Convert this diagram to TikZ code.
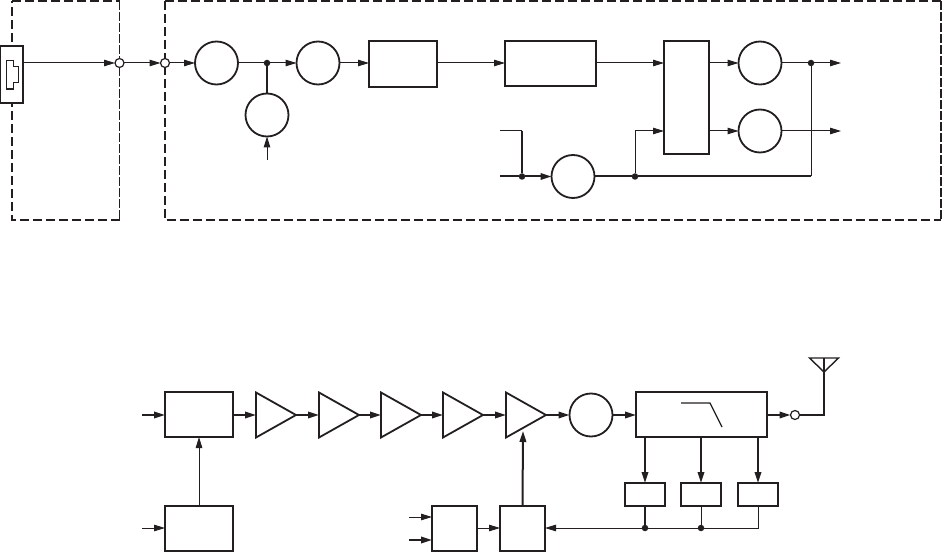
\documentclass[tikz,border=0pt]{standalone}
\usetikzlibrary{arrows.meta,shapes.geometric,calc}
\definecolor{ink}{HTML}{231F20}
\tikzset{
  thinl/.style={line width=1pt},
  thickl/.style={line width=2pt},
  arr/.style={-{Triangle[length=11pt,width=6.5pt,color=ink]}},
  rbox/.style 2 args={draw=ink,line width=2pt,rectangle,inner sep=0,outer sep=0,fill=white,minimum width=#1,minimum height=#2},
  circ/.style={draw=ink,line width=1.8pt,circle,inner sep=0,outer sep=0,minimum size=43pt,fill=white},
  port/.style={draw=ink,line width=1.2pt,circle,inner sep=0,outer sep=0,minimum size=9pt,fill=white},
  jdot/.style={fill=ink,draw=none,circle,inner sep=0,outer sep=0,minimum size=6.5pt},
  amp/.style={draw=ink,line width=1.8pt,isosceles triangle,isosceles triangle stretches,inner sep=0,outer sep=0,minimum width=45pt,minimum height=40pt,anchor=lower side,fill=white},
  dashthick/.style={line width=2pt,dash pattern=on 9pt off 4pt},
  dashthin/.style={line width=1pt,dash pattern=on 9pt off 2pt},
}
\begin{document}
\begin{tikzpicture}[x=1pt,y=-1pt,color=ink]
\useasboundingbox (0,0) rectangle (942,553);
% dashed frames
\draw[dashthick] (119.5,220.5) -- (12,220.5) -- (12,1);
\draw[dashthick] (12,1) -- (119.5,1);
\draw[dashthin] (119.5,1) -- (119.5,220.5);
\draw[dashthick] (165,1) -- (941,1);
\draw[dashthick] (165,1) -- (165,220.5) -- (941,220.5);
\draw[dashthin,line width=1.4pt] (941,1) -- (941,220.5);
% upper row nodes
\node[rbox={23pt}{57pt},line width=1.2pt] (conn) at (11.5,74.5) {};
\draw[line width=1.2pt] (6.3,60.3) -- (13.3,60.3) -- (13.3,66.7) -- (18.7,66.7) -- (18.7,82.7) -- (13.3,82.7) -- (13.3,89) -- (6.3,89) -- cycle;
\node[port] (p1) at (119.5,63) {};
\node[port] (p2) at (165,63) {};
\node[circ] (c1) at (216.5,63) {};
\node[circ] (c2) at (267,115) {};
\node[circ] (c3) at (318,63) {};
\node[rbox={68pt}{46pt}] (b1) at (403,64) {};
\node[rbox={91pt}{45pt}] (b2) at (550.5,63.5) {};
\node[rbox={45pt}{113pt}] (tall) at (686.5,97.5) {};
\node[circ] (c4) at (760,63) {};
\node[circ] (c5) at (760,131) {};
\node[circ] (c6) at (573,176.5) {};
\node[jdot] (d1) at (267,63) {};
\node[jdot] (d2) at (522,176.5) {};
\node[jdot] (d3) at (635,176.5) {};
\node[jdot] (d4) at (811,63) {};
\coordinate (in1) at (500,131);
\coordinate (in2) at (500,176.5);
\coordinate (up) at (267,160);
\coordinate (o1) at (841,63);
\coordinate (o2) at (841,131);
% upper connectors
\draw[thinl,arr] (conn.east |- p1) -- (p1);
\draw[thinl,arr] (p1) -- (p2);
\draw[thinl,arr] (p2) -- (c1);
\draw[thinl] (c1) -- (d1);
\draw[thinl,arr] (d1) -- (c3);
\draw[thickl] (d1) -- (c2);
\draw[thinl,arr] (up) -- (c2);
\draw[thinl,arr] (c3) -- (c3 -| b1.west);
\draw[thinl,arr] (b1.east |- c3) -- (b2.west |- c3);
\draw[thinl,arr] (b2.east |- c3) -- (tall.west |- c3);
\draw[thinl,arr] (tall.east |- c4) -- (c4);
\draw[thinl,arr] (tall.east |- c5) -- (c5);
\draw[thinl] (c4) -- (d4);
\draw[thinl,arr] (d4) -- (o1);
\draw[thinl,arr] (c5) -- (o2);
\draw[thinl] (in1) -- (d2 |- in1);
\draw[thickl] (d2 |- in1) -- (d2);
\draw[thickl] (in2) -- (d2);
\draw[thickl,arr] (d2) -- (c6);
\draw[thickl] (c6) -- (d3);
\draw[thinl,arr] (d3) -- (d3 |- c5) -- (tall.west |- c5);
\draw[thickl] (d3) -- (d4 |- d3);
\draw[thinl] (d4 |- d3) -- (d4);
% lower row nodes
\node[rbox={68pt}{45pt}] (mix) at (199,414.5) {};
\node[rbox={68pt}{45pt}] (osc) at (199,528.5) {};
\node[amp] (a1) at (256,415) {};
\node[amp] (a2) at (319,415) {};
\node[amp] (a3) at (381,415) {};
\node[amp] (a4) at (443,415) {};
\node[amp] (a5) at (506,415) {};
\node[circ] (c7) at (591,415) {};
\node[rbox={131pt}{45pt}] (filt) at (701.5,414.5) {};
\node[port] (p3) at (795,415) {};
\draw[line width=1.2pt] (681,403) -- (710,403) -- (722,427);
\node[rbox={40pt}{23pt}] (s1) at (645,494.5) {};
\node[rbox={40pt}{23pt}] (s2) at (701,494.5) {};
\node[rbox={40pt}{23pt}] (s3) at (758,494.5) {};
\node[rbox={45pt}{45pt}] (k1) at (454.5,528.5) {};
\node[rbox={45pt}{45pt}] (k2) at (522.5,528.5) {};
\node[jdot] (d5) at (645,528) {};
\node[jdot] (d6) at (701,528) {};
\coordinate (ant) at (824,358);
\coordinate (tipa) at (824,372);
\coordinate (i1) at (142,415);
\coordinate (i2) at (142,528);
\coordinate (i3) at (409,517);
\coordinate (i4) at (409,540);
\coordinate (a5in) at (523,431);
% antenna
\draw[thickl] (p3) -- (ant |- p3) -- (tipa);
\draw[line width=1.2pt] (ant) -- (tipa);
\draw[line width=1.4pt] (809.5,358) -- (838.5,358) -- (tipa) -- cycle;
% lower connectors
\draw[thickl,arr] (i1) -- (i1 -| mix.west);
\draw[thinl,arr] (i2) -- (i2 -| osc.west);
\draw[thinl,arr] (osc.north) -- (mix.south);
\draw[thickl,arr] (mix.east |- a1.lower side) -- (a1.lower side);
\draw[thickl,arr] (a1.apex) -- (a2.lower side);
\draw[thickl,arr] (a2.apex) -- (a3.lower side);
\draw[thickl,arr] (a3.apex) -- (a4.lower side);
\draw[thickl,arr] (a4.apex) -- (a5.lower side);
\draw[thickl,arr] (a5.apex) -- (c7);
\draw[thickl,arr] (c7) -- (c7 -| filt.west);
\draw[thickl,arr] (filt.east |- p3) -- (p3);
\draw[thickl,arr] (filt.south -| s1) -- (s1.north);
\draw[thickl,arr] (filt.south -| s2) -- (s2.north);
\draw[thickl,arr] (filt.south -| s3) -- (s3.north);
\draw[thickl] (s1.south) -- (d5);
\draw[thinl] (s2.south) -- (d6);
\draw[thinl] (s3.south) -- (s3.south |- d5) -- (d6);
\draw[thinl] (d6) -- (d5);
\draw[thinl,arr] (d5) -- (k2.east |- d5);
\draw[thinl,arr] (i3) -- (i3 -| k1.west);
\draw[thickl,arr] (i4) -- (i4 -| k1.west);
\draw[thinl,arr] (k1.east |- d5) -- (k2.west |- d5);
\draw[thickl,arr] (k2.north) -- (a5in);
\end{tikzpicture}
\end{document}
